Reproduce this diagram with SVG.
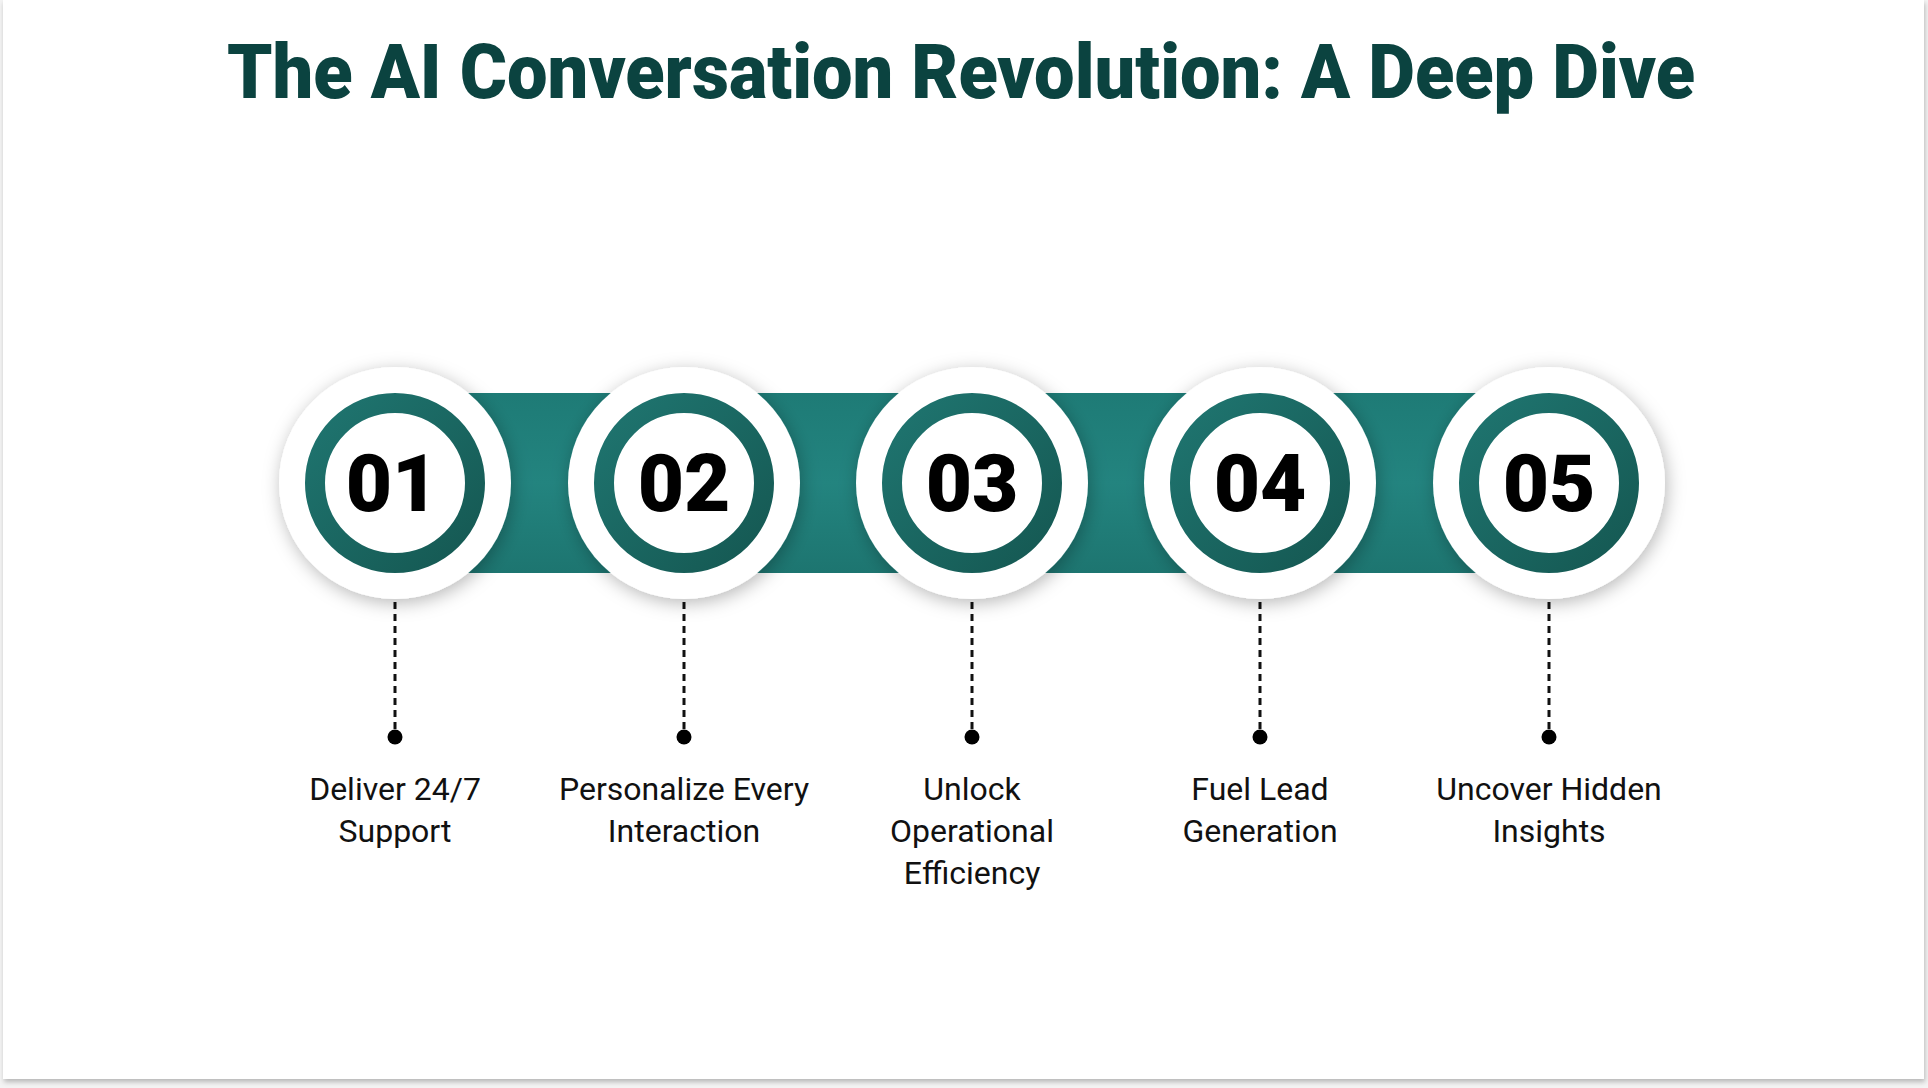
<svg xmlns="http://www.w3.org/2000/svg" width="1928" height="1088" viewBox="0 0 1928 1088">
  <defs>
    <filter id="cardShadow" x="-5%" y="-5%" width="110%" height="110%">
      <feDropShadow dx="1" dy="3" stdDeviation="2.5" flood-color="#000" flood-opacity="0.25"/>
    </filter>
    <filter id="circShadow" x="-40%" y="-40%" width="180%" height="180%">
      <feDropShadow dx="2" dy="4" stdDeviation="9" flood-color="#000" flood-opacity="0.28"/>
    </filter>
    <linearGradient id="bandGrad" x1="0" y1="0" x2="0" y2="1">
      <stop offset="0" stop-color="#1e7b76"/>
      <stop offset="0.5" stop-color="#23847f"/>
      <stop offset="1" stop-color="#1d7570"/>
    </linearGradient>
    <linearGradient id="ringGrad" x1="0" y1="0" x2="1" y2="1">
      <stop offset="0" stop-color="#1f7570"/>
      <stop offset="1" stop-color="#155852"/>
    </linearGradient>
  </defs>
  <style>
    .title { font-family: Roboto, "Liberation Sans", sans-serif; font-weight: 900; font-size: 76px; fill: #0b4340; }
    .num { font-family: Roboto, "Liberation Sans", sans-serif; font-weight: 900; font-size: 80px; fill: #000; text-anchor: middle; }
    .label { font-family: Roboto, "Liberation Sans", sans-serif; font-weight: 400; font-size: 32px; fill: #111; text-anchor: middle; }
    .outer { fill: #fff; filter: url(#circShadow); }
    .ring { fill: none; stroke: url(#ringGrad); stroke-width: 20; }
    .inner { fill: #fff; }
    .dash { stroke: #111; stroke-width: 3; stroke-dasharray: 7 5; fill: none; }
    .dot { fill: #000; }
  </style>

  <rect x="0" y="0" width="1928" height="1088" fill="#f4f4f4"/>
  <rect x="3" y="0" width="1921" height="1079" fill="#fff" filter="url(#cardShadow)"/>

  <text class="title" x="227" y="98" textLength="1468" lengthAdjust="spacingAndGlyphs">The AI Conversation Revolution: A Deep Dive</text>

  <g id="band">
    <rect x="395" y="393" width="1154" height="180" fill="url(#bandGrad)"/>
  </g>

  <g id="connectors">
    <line class="dash" x1="395" y1="602" x2="395" y2="732"/>
    <circle class="dot" cx="395" cy="737" r="7.5"/>
    <line class="dash" x1="684" y1="602" x2="684" y2="732"/>
    <circle class="dot" cx="684" cy="737" r="7.5"/>
    <line class="dash" x1="972" y1="602" x2="972" y2="732"/>
    <circle class="dot" cx="972" cy="737" r="7.5"/>
    <line class="dash" x1="1260" y1="602" x2="1260" y2="732"/>
    <circle class="dot" cx="1260" cy="737" r="7.5"/>
    <line class="dash" x1="1549" y1="602" x2="1549" y2="732"/>
    <circle class="dot" cx="1549" cy="737" r="7.5"/>
  </g>

  <g id="node1">
    <circle class="outer" cx="395" cy="483" r="116"/>
    <circle class="ring" cx="395" cy="483" r="80"/>
    <text class="num" x="392" y="511">01</text>
    <text class="label" x="395" y="800">Deliver 24/7</text>
    <text class="label" x="395" y="842">Support</text>
  </g>

  <g id="node2">
    <circle class="outer" cx="684" cy="483" r="116"/>
    <circle class="ring" cx="684" cy="483" r="80"/>
    <text class="num" x="684" y="511">02</text>
    <text class="label" x="684" y="800">Personalize Every</text>
    <text class="label" x="684" y="842">Interaction</text>
  </g>

  <g id="node3">
    <circle class="outer" cx="972" cy="483" r="116"/>
    <circle class="ring" cx="972" cy="483" r="80"/>
    <text class="num" x="972" y="511">03</text>
    <text class="label" x="972" y="800">Unlock</text>
    <text class="label" x="972" y="842">Operational</text>
    <text class="label" x="972" y="884">Efficiency</text>
  </g>

  <g id="node4">
    <circle class="outer" cx="1260" cy="483" r="116"/>
    <circle class="ring" cx="1260" cy="483" r="80"/>
    <text class="num" x="1260" y="511">04</text>
    <text class="label" x="1260" y="800">Fuel Lead</text>
    <text class="label" x="1260" y="842">Generation</text>
  </g>

  <g id="node5">
    <circle class="outer" cx="1549" cy="483" r="116"/>
    <circle class="ring" cx="1549" cy="483" r="80"/>
    <text class="num" x="1549" y="511">05</text>
    <text class="label" x="1549" y="800">Uncover Hidden</text>
    <text class="label" x="1549" y="842">Insights</text>
  </g>
</svg>
